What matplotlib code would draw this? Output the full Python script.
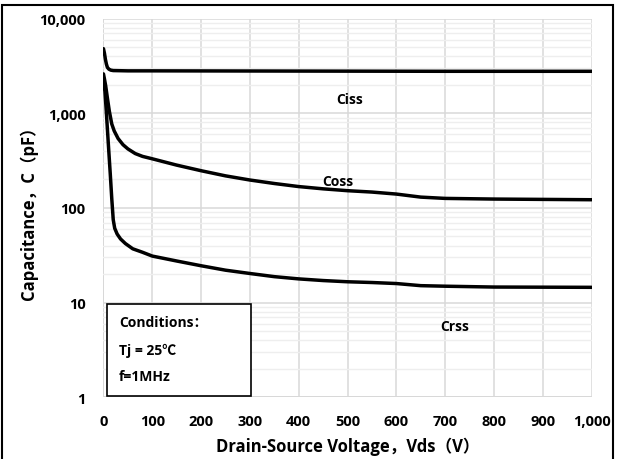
import numpy as np
import matplotlib
matplotlib.use('Agg')
import matplotlib.pyplot as plt
from matplotlib.patches import Rectangle
from matplotlib.ticker import FixedLocator, LogLocator, NullFormatter

plt.rcParams['font.family'] = ['Open Sans', 'Noto Sans CJK SC', 'DejaVu Sans']
plt.rcParams['font.weight'] = 'bold'

# capacitance vs drain-source voltage (pF)
ciss_v = [0, 2, 4, 6, 8, 11, 15, 20, 50, 100, 300, 500, 700, 1000]
ciss_c = [4800, 4300, 3700, 3300, 3050, 2920, 2850, 2820, 2800, 2800, 2790, 2780, 2770, 2770]

coss_v = [0, 2, 4.5, 8, 12, 17, 22, 30, 40, 50, 65, 80, 100, 150, 200, 250, 300, 350,
          400, 450, 500, 550, 600, 650, 700, 800, 1000]
coss_c = [2600, 2300, 1950, 1450, 1050, 770, 650, 540, 465, 420, 375, 350, 330, 283, 247,
          218, 197, 181, 168, 159, 152, 147, 140, 130, 126, 124, 122]

crss_v = [0, 3, 6, 10, 14, 17, 20, 23, 28, 35, 45, 60, 80, 100, 150, 200, 250, 300, 350,
          400, 450, 500, 550, 600, 650, 700, 800, 1000]
crss_c = [2200, 1700, 1000, 470, 225, 125, 75, 61, 53, 47, 42, 37, 34, 31, 27.5, 24.5, 22,
          20.3, 18.8, 17.8, 17.1, 16.6, 16.3, 15.9, 15.1, 14.9, 14.6, 14.5]

x_ticks = [0, 100, 200, 300, 400, 500, 600, 700, 800, 900, 1000]
x_labels = ['0', '100', '200', '300', '400', '500', '600', '700', '800', '900', '1,000']
y_ticks = [1, 10, 100, 1000, 10000]
y_labels = ['1', '10', '100', '1,000', '10,000']

conditions = ['Conditions：', 'Tj = 25℃', 'f=1MHz']

fig = plt.figure(figsize=(6.17, 4.6), dpi=100)
ax = fig.add_axes([0.1677, 0.1341, 0.7912, 0.8235])

ax.set_yscale('log')
ax.set_xlim(0, 1000)
ax.set_ylim(1, 10000)

for v, c in [(ciss_v, ciss_c), (coss_v, coss_c), (crss_v, crss_c)]:
    ax.plot(v, c, color='black', lw=2.5, solid_joinstyle='round', solid_capstyle='round')

ax.text(505, 1410, 'Ciss', ha='center', va='center', fontsize=10, fontweight='bold')
ax.text(480, 192, 'Coss', ha='center', va='center', fontsize=10, fontweight='bold')
ax.text(720, 5.7, 'Crss', ha='center', va='center', fontsize=10, fontweight='bold')

ax.xaxis.set_major_locator(FixedLocator(x_ticks))
ax.set_xticklabels(x_labels)
ax.yaxis.set_major_locator(FixedLocator(y_ticks))
ax.set_yticklabels(y_labels)
ax.yaxis.set_minor_locator(LogLocator(base=10, subs=np.arange(2, 10)))
ax.yaxis.set_minor_formatter(NullFormatter())

ax.tick_params(axis='both', which='both', length=0, labelsize=10.5)
ax.tick_params(axis='x', pad=12)
ax.tick_params(axis='y', pad=13)

ax.grid(True, which='major', axis='both', color='#d9d9d9', lw=1.1)
ax.grid(True, which='minor', axis='y', color='#eeeeee', lw=1.0)
ax.set_axisbelow(True)
for s in ax.spines.values():
    s.set_visible(False)
ax.axvline(0, color='#d0d0d0', lw=1.2, zorder=0.5)
ax.axhline(1, color='#d0d0d0', lw=1.2, zorder=0.5)

ax.set_xlabel('Drain-Source Voltage，Vds（V）', fontsize=12, fontweight='bold', labelpad=6)
ax.set_ylabel('Capacitance，C（pF）', fontsize=12, fontweight='bold', labelpad=1)

# conditions box in the lower-left corner
box = Rectangle((107.3 / 617, (460 - 397.3) / 460), (250.7 - 107.3) / 617, (397.3 - 305) / 460,
                transform=fig.transFigure, facecolor='white', edgecolor='black', lw=1.2, zorder=5)
fig.patches.append(box)
for txt, ypix in zip(conditions, [323, 351, 377]):
    fig.text(119 / 617, 1 - ypix / 460, txt, ha='left', va='center', fontsize=10,
             fontweight='bold', zorder=6)

# outer frame
frame = Rectangle((2 / 617, -0.05), 611 / 617, 1.05 - 6 / 460, transform=fig.transFigure,
                  fill=False, edgecolor='black', lw=1.5)
fig.patches.append(frame)

fig.savefig('out.png', dpi=100)
